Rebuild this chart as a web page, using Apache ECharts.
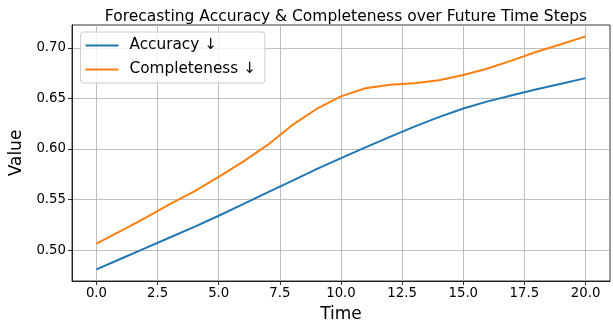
<!DOCTYPE html>
<html>
<head>
<meta charset="utf-8">
<script src="https://cdn.jsdelivr.net/npm/echarts@6/dist/echarts.min.js"></script>
<style>html,body{margin:0;padding:0;background:#fff;}#c{width:613px;height:328px;}</style>
</head>
<body>
<div id="c"></div>
<script>
const timeSteps = [0,1,2,3,4,5,6,7,8,9,10,11,12,13,14,15,16,17,18,19,20];
const accuracy = [0.481,0.4915,0.502,0.5125,0.523,0.534,0.5455,0.557,0.5685,0.580,0.591,0.6015,0.612,0.622,0.6315,0.640,0.647,0.653,0.659,0.6645,0.670];
const completeness = [0.5065,0.519,0.532,0.5455,0.558,0.5725,0.5875,0.604,0.6235,0.6395,0.652,0.660,0.6635,0.665,0.668,0.673,0.6795,0.6875,0.696,0.7035,0.7113];
const xTicks = [0,2.5,5,7.5,10,12.5,15,17.5,20];
const yTicks = [0.50,0.55,0.60,0.65,0.70];
const seriesNames = ['Accuracy ↓','Completeness ↓'];

const font = 'DejaVu Sans';
const chart = echarts.init(document.getElementById('c'), null, {renderer:'canvas'});
const gridLine = {show:true, lineStyle:{color:'#b0b0b0', width:0.8}};
chart.setOption({
  animation:false,
  backgroundColor:'#fff',
  title:{text:'Forecasting Accuracy & Completeness over Future Time Steps', left:341, textAlign:'center', top:4,
    textStyle:{fontFamily:font, fontSize:15.5, fontWeight:'normal', color:'#000'}},
  grid:{left:72, right:3, top:25, bottom:44, show:true, borderColor:'#000', borderWidth:0.8, containLabel:false},
  legend:{orient:'vertical', left:80.5, top:32, itemWidth:33, itemHeight:14, itemGap:9,
    padding:[6,9,6,5], backgroundColor:'rgba(255,255,255,0.8)', borderColor:'#cccccc', borderWidth:1, borderRadius:3,
    icon:'path://M0,0 L33,0 L33,2 L0,2 Z',
    textStyle:{fontFamily:font, fontSize:15.3, color:'#000', padding:[0,0,0,6]},
    data:seriesNames},
  xAxis:{type:'value', min:-1, max:21, name:'Time', nameLocation:'middle', nameGap:25,
    nameTextStyle:{fontFamily:font, fontSize:17, color:'#000'},
    axisLine:{show:true, onZero:false, lineStyle:{color:'#000', width:0.8}},
    axisTick:{show:true, length:4, customValues:xTicks, lineStyle:{color:'#000', width:0.8}},
    axisLabel:{customValues:xTicks, fontFamily:font, fontSize:13.3, color:'#000', margin:6, formatter:v=>v.toFixed(1)},
    splitLine:gridLine},
  yAxis:{type:'value', min:0.4695, max:0.7225, name:'Value', nameLocation:'middle', nameGap:40,
    nameTextStyle:{fontFamily:font, fontSize:17, color:'#000'},
    axisLine:{show:true, onZero:false, lineStyle:{color:'#000', width:0.8}},
    axisTick:{show:true, length:4, customValues:yTicks, lineStyle:{color:'#000', width:0.8}},
    axisLabel:{customValues:yTicks, fontFamily:font, fontSize:13.3, color:'#000', margin:6, formatter:v=>v.toFixed(2)},
    splitLine:gridLine},
  series:[
    {name:seriesNames[0], type:'line', data:timeSteps.map((t,i)=>[t,accuracy[i]]), showSymbol:false, smooth:false,
      lineStyle:{color:'#1f77b4', width:2}, itemStyle:{color:'#1f77b4'}},
    {name:seriesNames[1], type:'line', data:timeSteps.map((t,i)=>[t,completeness[i]]), showSymbol:false, smooth:false,
      lineStyle:{color:'#ff7f0e', width:2}, itemStyle:{color:'#ff7f0e'}}
  ]
});
</script>
</body>
</html>
